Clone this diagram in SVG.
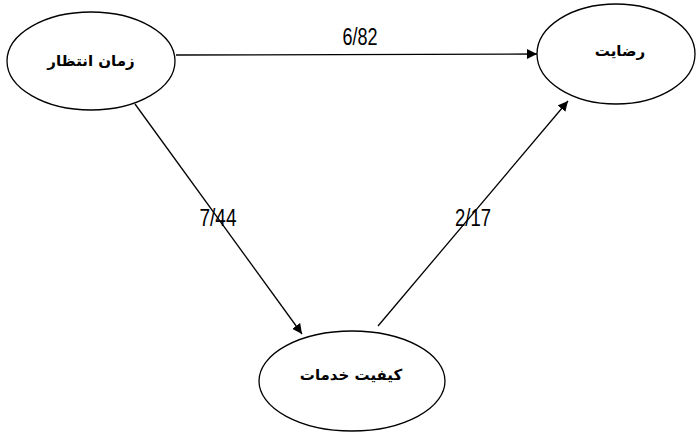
<svg xmlns="http://www.w3.org/2000/svg" width="696" height="433" viewBox="0 0 696 433">
<style>
.node{fill:#fff;stroke:#000;stroke-width:1.3}
.lbl{font-family:"DejaVu Sans","Noto Sans",sans-serif;font-weight:bold;font-size:15px;text-anchor:middle;fill:#000}
.num{font-family:"Liberation Sans",Arial,sans-serif;font-size:23px;fill:#000;text-anchor:middle}
.edge{stroke:#000;stroke-width:1.3;fill:none;marker-end:url(#ah)}
</style>
<defs>
<marker id="ah" viewBox="0 0 10 10" refX="10" refY="5" markerWidth="10" markerHeight="10" markerUnits="userSpaceOnUse" orient="auto">
<path d="M0,0 L10,5 L0,10 z" fill="#000"/>
</marker>
</defs>
<rect width="696" height="433" fill="#fff"/>
<g id="connectors">
<line class="edge" x1="176" y1="55" x2="537" y2="54"/>
<line class="edge" x1="135" y1="104" x2="302" y2="334"/>
<line class="edge" x1="378" y1="326" x2="568" y2="101"/>
</g>
<g id="edge-labels">
<text class="num" x="360" y="45" textLength="35" lengthAdjust="spacingAndGlyphs">6/82</text>
<text class="num" x="218" y="226" textLength="37" lengthAdjust="spacingAndGlyphs">7/44</text>
<text class="num" x="473" y="226" textLength="36" lengthAdjust="spacingAndGlyphs">2/17</text>
</g>
<g id="node-wait">
<ellipse class="node" cx="91" cy="61" rx="84" ry="49"/>
<text class="lbl" x="91" y="66">زمان انتظار</text>
</g>
<g id="node-satisfaction">
<ellipse class="node" cx="616" cy="54" rx="79" ry="50"/>
<text class="lbl" x="620" y="56">رضایت</text>
</g>
<g id="node-quality">
<ellipse class="node" cx="352" cy="381" rx="93" ry="50"/>
<text class="lbl" x="351" y="380">کیفیت خدمات</text>
</g>
</svg>
